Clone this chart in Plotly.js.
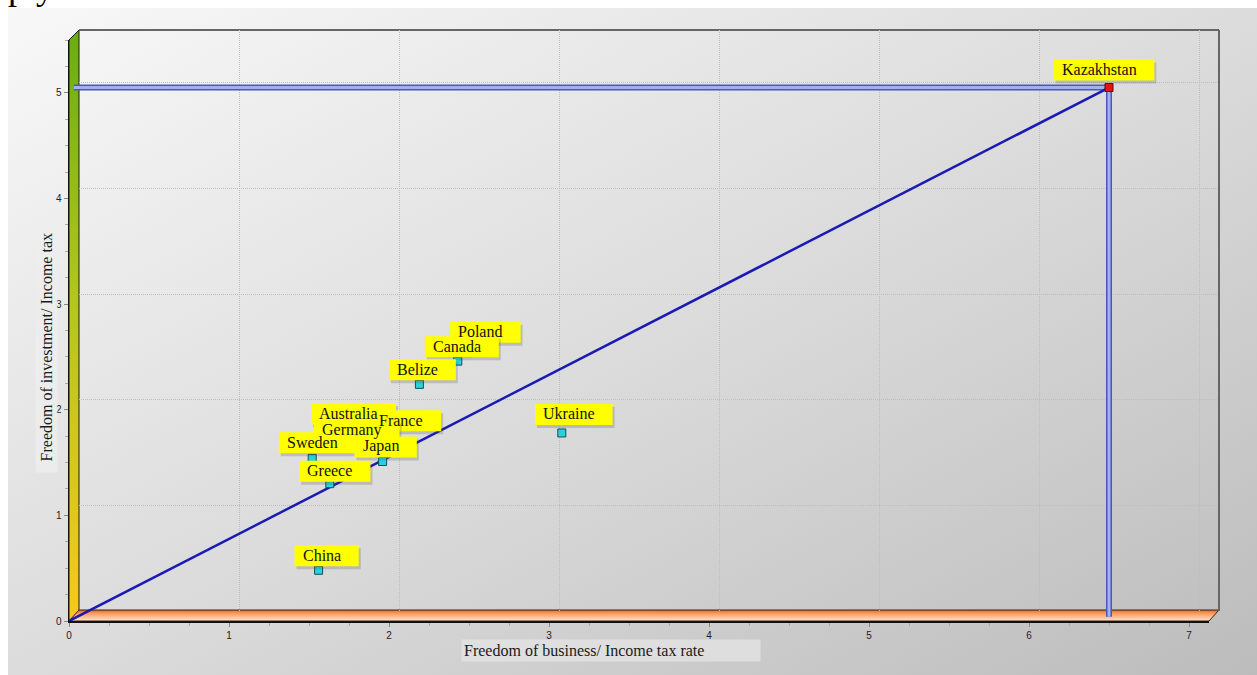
<!DOCTYPE html>
<html><head><meta charset="utf-8">
<script src="https://cdn.plot.ly/plotly-3.0.1.min.js"></script>
<style>
html,body{margin:0;padding:0;background:#fff;overflow:hidden;}
#bg{position:absolute;left:8px;top:8px;width:1249px;height:667px;background:linear-gradient(to bottom right,#f8f8f8 0%,#dcdcdc 50%,#bcbcbc 100%);}
#chart{position:absolute;left:0;top:0;width:1257px;height:675px;}
</style></head><body>
<div id="bg"></div><div id="chart"></div>
<script>
// ---- data ----
const countries = ['Kazakhstan','Poland','Canada','Belize','Australia','France','Germany','Sweden','Japan','Greece','China','Ukraine'];
const businessRatio = [6.5, 2.49, 2.43, 2.19, 1.86, 1.89, 1.83, 1.52, 1.96, 1.63, 1.56, 3.08];
const investmentRatio = [5.05, 2.54, 2.46, 2.24, 1.75, 1.74, 1.73, 1.54, 1.51, 1.30, 0.48, 1.78];
const xTickLabels = ['0','1','2','3','4','5','6','7'];
const yTickLabels = ['0','1','2','3','4','5'];
const highlight = 'Kazakhstan';
const xTitle = 'Freedom of business/ Income tax rate';
const yTitle = 'Freedom of investment/ Income tax';

// ---- layout helpers (pixel geometry of the frame) ----
const W = 1257, H = 675, L = 69, R = 38, T = 30, B = 54;
const PW = W - L - R, PH = H - T - B; // 1150 x 591
const D = 10; // 3D depth offset in px
const px = x => (x - L) / PW;
const py = y => 1 - (y - T) / PH;

const XR = [0, 7.125], YR = [0, 5.5];

// label text-centre offsets relative to point (px, y down)
const labelOffsets = {
  Kazakhstan:[-10,-18], Poland:[13,-21], Canada:[-1,-15], Belize:[-2,-15],
  Australia:[-18,-23], France:[30,-17], Germany:[-10,-8], Sweden:[0,-16],
  Japan:[-2,-15], Greece:[0,-13], China:[3,-15], Ukraine:[7,-19]
};

const k = countries.indexOf(highlight);
const kx = businessRatio[k], ky = investmentRatio[k];

const svgUri = s => 'data:image/svg+xml;charset=utf-8,' + encodeURIComponent(s);
const wallSvg = `<svg xmlns="http://www.w3.org/2000/svg" width="12" height="593" viewBox="-1 -1 12 593" preserveAspectRatio="none"><defs><linearGradient id="g" x1="0" y1="0" x2="0" y2="1"><stop offset="0" stop-color="#6aad12"/><stop offset="0.45" stop-color="#b2c61e"/><stop offset="1" stop-color="#f8c81a"/></linearGradient></defs><polygon points="0,10 10,0 10,581 0,591" fill="url(#g)" stroke="#1a1a1a" stroke-width="1"/></svg>`;
const floorSvg = `<svg xmlns="http://www.w3.org/2000/svg" width="1152" height="13" viewBox="-1 -1 1152 13" preserveAspectRatio="none"><defs><linearGradient id="f" x1="0" y1="0" x2="0" y2="1"><stop offset="0" stop-color="#d86a28"/><stop offset="0.3" stop-color="#fb9a5c"/><stop offset="1" stop-color="#ffe6d0"/></linearGradient></defs><polygon points="10,0 1150,0 1140,11 0,11" fill="url(#f)" stroke="#3a2210" stroke-width="1"/></svg>`;

const traces = [
  // invisible trace so the back-wall grid subplot is drawn
  { x:[null], y:[null], xaxis:'x', yaxis:'y', mode:'markers', hoverinfo:'skip', showlegend:false },
  { x:[0, kx], y:[0, ky], xaxis:'x2', yaxis:'y2', mode:'lines',
    line:{color:'#1a1ab4', width:2.5}, hoverinfo:'skip', showlegend:false },
  { x:businessRatio, y:investmentRatio, text:countries, xaxis:'x2', yaxis:'y2', mode:'markers',
    marker:{symbol:'square', size:8,
      color:countries.map(c => c === highlight ? '#e01616' : '#28d2dc'),
      line:{color:countries.map(c => c === highlight ? '#6a0000' : '#1c4a58'), width:1}},
    showlegend:false }
];

const serif = 'Liberation Serif, Times New Roman, serif';
const ctx = document.createElement('canvas').getContext('2d');
ctx.font = '16px "Liberation Serif", "Times New Roman", serif';

// yellow label boxes as pixel-sized shapes anchored at each point
const labelShapes = [];
countries.forEach((c, i) => {
  const [dx, dy] = labelOffsets[c];
  const w = ctx.measureText(c).width;
  const box = {x0: dx - w/2 - 8, x1: dx + w/2 + 18, y0: -(dy + 11), y1: 10 - dy};
  const base = {type:'rect', xref:'x2', yref:'y2', xsizemode:'pixel', ysizemode:'pixel',
    xanchor: businessRatio[i], yanchor: investmentRatio[i], layer:'above', line:{width:0}};
  labelShapes.push(Object.assign({}, base, {x0: box.x0 + 2, x1: box.x1 + 2, y0: box.y0 - 3, y1: box.y1 - 3,
    fillcolor:'rgba(70,70,70,0.22)'}));
  labelShapes.push(Object.assign({}, base, box, {fillcolor:'#ffff00'}));
});

const annotations = countries.map((c, i) => ({
  x: businessRatio[i], y: investmentRatio[i], xref:'x2', yref:'y2', showarrow:false,
  xanchor:'center', yanchor:'middle', text: c,
  font:{family:serif, size:16, color:'#111'},
  xshift: labelOffsets[c][0], yshift: -labelOffsets[c][1]
}));
annotations.push({
  xref:'paper', yref:'paper', x:px(611), y:py(650), xanchor:'center', yanchor:'middle', showarrow:false,
  text:xTitle, width:294, align:'left', borderpad:2, bgcolor:'rgba(228,228,228,0.75)',
  font:{family:serif, size:16, color:'#1a1a1a'}
});
annotations.push({
  xref:'paper', yref:'paper', x:px(46), y:py(352), xanchor:'center', yanchor:'middle', showarrow:false, textangle:-90,
  text:yTitle, width:237, align:'right', borderpad:2, bgcolor:'rgba(238,238,238,0.8)',
  font:{family:serif, size:16, color:'#1a1a1a'}
});
annotations.push({
  xref:'paper', yref:'paper', x:px(6), y:py(9), xanchor:'left', yanchor:'bottom', showarrow:false,
  text:'ply', font:{family:serif, size:36, color:'#000'}
});

const tickFont = {family:'Liberation Sans, Arial, sans-serif', size:10, color:'#222'};
const gridAx = {showgrid:true, gridcolor:'#bdbdbd', griddash:'1px,1px', gridwidth:1, dtick:1, tick0:0,
  showticklabels:false, ticks:'', zeroline:false, showline:false, fixedrange:true};
const layout = {
  width:W, height:H, margin:{l:L, r:R, t:T, b:B, pad:0},
  paper_bgcolor:'rgba(0,0,0,0)', plot_bgcolor:'rgba(0,0,0,0)',
  showlegend:false, hovermode:'closest',
  // back wall grid
  xaxis:Object.assign({}, gridAx, {domain:[D/PW, 1], range:XR, anchor:'y'}),
  yaxis:Object.assign({}, gridAx, {domain:[D/PH, 1], range:YR, anchor:'x'}),
  // front axes
  xaxis2:{domain:[0, (PW - D)/PW], range:XR, anchor:'y2', showgrid:false, zeroline:false,
    showline:true, linecolor:'#111', linewidth:1.5,
    tickvals:xTickLabels.map(Number), ticktext:xTickLabels, ticks:'outside', ticklen:4, tickcolor:'#888',
    minor:{dtick:0.25, tick0:0, ticks:'outside', ticklen:3, tickcolor:'#aaa', showgrid:false},
    tickfont:tickFont, fixedrange:true},
  yaxis2:{domain:[0, (PH - D)/PH], range:YR, anchor:'x2', showgrid:false, zeroline:false,
    showline:true, linecolor:'#111', linewidth:1.5,
    tickvals:yTickLabels.map(Number), ticktext:yTickLabels, ticks:'outside', ticklen:4, tickcolor:'#888',
    minor:{dtick:0.25, tick0:0, ticks:'outside', ticklen:3, tickcolor:'#aaa', showgrid:false},
    tickfont:tickFont, fixedrange:true},
  images:[
    {source:svgUri(wallSvg), xref:'paper', yref:'paper', x:px(L-1), y:py(T-1), sizex:12/PW, sizey:593/PH,
      xanchor:'left', yanchor:'top', sizing:'stretch', layer:'below'},
    {source:svgUri(floorSvg), xref:'paper', yref:'paper', x:px(L-1), y:py(H-B-D-2), sizex:1152/PW, sizey:13/PH,
      xanchor:'left', yanchor:'top', sizing:'stretch', layer:'below'}
  ],
  shapes:[
    {type:'line', xref:'paper', yref:'paper', x0:px(L+D), x1:px(W-R), y0:py(T), y1:py(T), line:{color:'#666', width:2}, layer:'below'},
    {type:'line', xref:'paper', yref:'paper', x0:px(W-R), x1:px(W-R), y0:py(T), y1:py(H-B-D), line:{color:'#666', width:2}, layer:'below'},
    // reference bars to the highlighted point
    {type:'line', xref:'x2', yref:'y2', x0:0.03, x1:kx, y0:ky, y1:ky, line:{color:'#4a58b4', width:6}, layer:'between'},
    {type:'line', xref:'x2', yref:'y2', x0:0.03, x1:kx, y0:ky, y1:ky, line:{color:'#a4aef0', width:3}, layer:'between'},
    {type:'line', xref:'x2', yref:'y2', x0:kx, x1:kx, y0:0.04, y1:ky, line:{color:'#4a58b4', width:6}, layer:'between'},
    {type:'line', xref:'x2', yref:'y2', x0:kx, x1:kx, y0:0.04, y1:ky, line:{color:'#a4aef0', width:3}, layer:'between'}
  ].concat(labelShapes),
  annotations:annotations
};
Plotly.newPlot('chart', traces, layout, {displayModeBar:false, staticPlot:true});
</script>
</body></html>
